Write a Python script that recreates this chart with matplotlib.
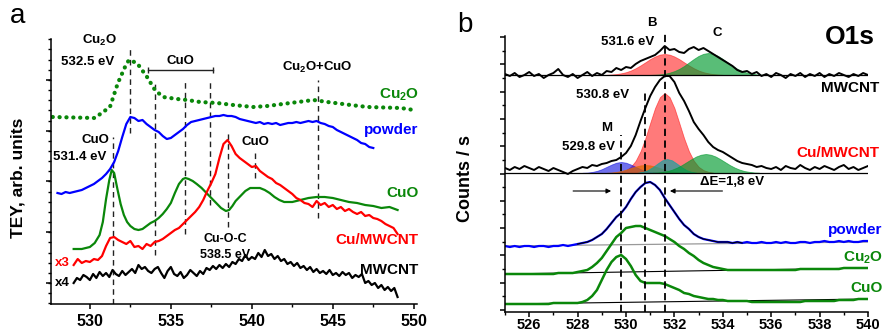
import numpy as np
import matplotlib
matplotlib.use("Agg")
import matplotlib.pyplot as plt
from matplotlib.ticker import MultipleLocator, FixedLocator

plt.rcParams["font.family"] = ["Liberation Sans", "DejaVu Sans"]
plt.rcParams["font.weight"] = "bold"
plt.rcParams["mathtext.fontset"] = "custom"
plt.rcParams["mathtext.rm"] = "Liberation Sans:bold"
plt.rcParams["mathtext.it"] = "Liberation Sans:bold"
plt.rcParams["mathtext.bf"] = "Liberation Sans:bold"

# ---------------- panel a : TEY, O K-edge ----------------
cu2o_a_e = [527.7, 530.3, 531.24, 531.73, 532.17, 532.41, 532.91, 533.53, 534.02, 534.52,
            535.39, 536.0, 536.81, 537.86, 538.85, 540.09, 540.96, 542.38, 543.81, 544.67,
            546.1, 547.15, 549.2, 550.0]
cu2o_a_y = [187, 186, 197, 221, 237, 244, 241, 227, 214, 207,
            205, 204, 202, 201, 199, 197, 198, 201, 204, 202,
            199, 197, 196, 194]

powder_a_e = list(np.arange(528.0, 547.51, 0.25))
powder_a_y = [111, 110, 112, 111, 112, 113, 114, 116, 118, 120, 123, 126, 130, 135, 142, 153,
              167, 180, 187, 186, 183, 184, 180, 177, 174, 172, 168, 165, 166, 169, 172, 175,
              179, 182, 183, 184, 185, 186, 187, 188, 188, 189, 188, 188, 187, 185, 184, 183,
              182, 181, 182, 180, 181, 180, 181, 179, 180, 181, 181, 182, 181, 182, 183, 182,
              183, 181, 180, 178, 177, 174, 172, 170, 168, 166, 164, 161, 160, 157, 156]

cuo_a_e = [529.0, 529.5, 530.0, 530.3, 530.6, 530.8, 531.0, 531.2, 531.35, 531.5, 531.7, 531.9,
           532.1, 532.3, 532.5, 532.75, 533.0, 533.25, 533.5, 533.75, 534.0, 534.25, 534.5,
           534.75, 535.0, 535.25, 535.5, 535.75, 535.9, 536.1, 536.35, 536.6, 536.9, 537.2,
           537.5, 537.8, 538.1, 538.4, 538.6, 538.8, 539.0, 539.3, 539.6, 539.9, 540.2, 540.5,
           540.8, 541.1, 541.4, 541.7, 542.0, 542.5, 543.0, 543.5, 544.0, 544.5, 545.0, 545.5,
           546.0, 546.5, 547.0, 547.5, 548.0, 548.5, 549.0]
cuo_a_y = [55, 55, 57, 61, 69, 82, 105, 124, 134, 131, 115, 100,
           89, 82, 78, 75, 74, 75, 78, 81, 83, 86, 90,
           95, 101, 111, 120, 125, 126, 125, 123, 120, 116, 111,
           106, 101, 96, 93, 94, 98, 103, 108, 113, 116, 116, 116,
           114, 111, 107, 104, 102, 102, 104, 106, 107, 107, 106, 104,
           102, 101, 99, 98, 96, 97, 94]

cumw_a_e = list(np.arange(529.0, 549.01, 0.25))
cumw_a_y = [39, 45, 41, 43, 42, 45, 44, 48, 58, 66, 67, 64, 62, 60, 63, 57, 58, 55, 60, 58,
            62, 63, 65, 68, 71, 74, 76, 80, 84, 88, 92, 97, 104, 113, 121, 130, 146, 160, 164,
            158, 150, 146, 143, 140, 137, 138, 133, 130, 127, 125, 121, 119, 116, 113, 110, 106,
            104, 101, 100, 97, 103, 99, 101, 97, 99, 95, 97, 93, 95, 92, 90, 92, 88, 89, 86,
            85, 83, 80, 78, 76, 70]

mwcnt_a_e = list(np.arange(529.0, 549.01, 0.2))
mwcnt_a_y = [21, 26, 24, 29, 27, 24, 30, 26, 32, 28, 31, 27, 34, 30, 28, 33, 29, 32, 35, 31,
             39, 35, 37, 33, 31, 35, 37, 31, 26, 33, 37, 30, 28, 32, 26, 29, 34, 31, 28, 33,
             30, 36, 34, 38, 35, 39, 36, 40, 37, 42, 40, 45, 43, 49, 44, 47, 45, 51, 47, 54,
             48, 50, 45, 48, 43, 45, 40, 42, 38, 41, 36, 38, 34, 37, 32, 35, 31, 33, 30, 34,
             29, 31, 28, 32, 29, 31, 26, 29, 27, 30, 21, 23, 19, 21, 16, 19, 14, 17, 13, 16, 7]

a_dash_e = [531.4, 532.5, 534.0, 535.9, 537.4, 538.5, 540.2, 544.1]
a_dash_top = [167, 257, 224, 224, 224, 171, 154, 224]
a_dash_bot = [0, 171, 49, 70, 99, 77, 126, 86]
a_bracket_e = [533.6, 537.6]
a_bracket_y = [234, 234]

# ---------------- panel b : XPS O1s ----------------
b_e = list(np.arange(525.0, 540.01, 0.2))
mwcnt_b_y = [238, 236, 239, 235, 237, 240, 236, 238, 234, 237, 239, 243, 237, 235, 238, 234,
             237, 240, 236, 239, 237, 241, 240, 244, 242, 245, 244, 248, 251, 253, 255, 257,
             261, 266, 262, 263, 260, 259, 263, 265, 262, 264, 261, 258, 255, 252, 249, 246,
             242, 240, 241, 238, 240, 236, 238, 235, 239, 237, 234, 238, 236, 239, 235, 238,
             236, 239, 235, 238, 236, 239, 237, 235, 238, 236, 239, 237]
cumw_b_y = [144, 142, 145, 143, 146, 144, 142, 145, 143, 141, 144, 142, 140, 138, 141, 143,
            145, 144, 147, 146, 148, 149, 151, 152, 155, 159, 166, 177, 191, 204, 216, 225,
            232, 236, 236, 230, 219, 211, 201, 190, 183, 177, 170, 165, 162, 160, 157, 154,
            151, 149, 148, 147, 145, 146, 144, 143, 145, 142, 146, 144, 143, 147, 144, 142,
            145, 143, 146, 144, 142, 145, 147, 143, 145, 142, 144, 146]
powder_b_y = [66, 65, 66, 65, 66, 66, 65, 66, 66, 65, 66, 66, 67, 66, 67, 68,
              69, 70, 72, 75, 78, 83, 89, 95, 99, 105, 113, 120, 125, 129, 130, 127,
              122, 114, 107, 100, 93, 87, 83, 78, 75, 73, 72, 71, 70, 70,
              70, 69, 70, 69, 70, 69, 69, 70, 69, 69, 70, 69, 70, 69, 69, 70,
              70, 69, 70, 70, 71, 70, 70, 71, 70, 71, 70, 70, 71, 71]
cu2o_b_y = [38, 38, 38, 38, 38, 38, 38, 38, 38, 38, 38, 39, 39, 39, 39, 40,
            41, 42, 45, 49, 54, 61, 68, 75, 79, 84, 85, 86, 86, 84, 82, 80,
            78, 76, 73, 70, 66, 63, 59, 56, 52, 49, 47, 45, 44, 43,
            42, 42, 42, 42, 42, 42, 42, 42, 42, 42, 42, 42, 42, 42, 42, 43,
            43, 43, 43, 43, 43, 43, 43, 43, 44, 44, 44, 44, 44, 44]
cuo_b_y = [8, 8, 8, 8, 8, 8, 8, 8, 8, 8, 9, 9, 9, 9, 9, 9,
           10, 12, 16, 22, 32, 42, 50, 55, 57, 53, 46, 37, 31, 29, 29, 29,
           29, 28, 26, 24, 22, 19, 18, 16, 15, 14, 13, 13, 12, 12,
           11, 11, 11, 11, 11, 10, 10, 10, 10, 10, 10, 10, 10, 10, 10, 10,
           11, 11, 11, 11, 11, 11, 11, 12, 12, 12, 12, 13, 13, 13]

bg_e = [525.0, 540.0]
powder_bg = [66, 70]
cu2o_bg = [38, 44]
cuo_bg = [8, 13]
mwcnt_base = 237
cumw_base = 139

# fitted components (height above base line)
mw_b_e = list(np.arange(529.2, 534.01, 0.2))
mw_b_h = [0.2, 0.5, 0.9, 1.7, 2.8, 4.5, 6.8, 9.6, 12.7, 15.9, 18.5, 20.4, 21,
          20.4, 18.5, 15.9, 12.7, 9.6, 6.8, 4.5, 2.8, 1.7, 0.9, 0.5, 0.2]
mw_c_e = list(np.arange(531.0, 535.81, 0.2))
mw_c_h = [0.1, 0.3, 0.6, 1.2, 2.3, 3.9, 6.1, 9.0, 12.5, 16.0, 19.1, 21.2, 22,
          21.2, 19.1, 16.0, 12.5, 9.0, 6.1, 3.9, 2.3, 1.2, 0.6, 0.3, 0.1]
cm_red_e = list(np.arange(529.6, 533.61, 0.2))
cm_red_h = [0.4, 1.2, 2.9, 6.2, 12.3, 21.8, 34.8, 50.1, 65.0, 75.9, 80,
            75.9, 65.0, 50.1, 34.8, 21.8, 12.3, 6.2, 2.9, 1.2, 0.4]
cm_blue_e = list(np.arange(528.2, 531.41, 0.2))
cm_blue_h = [0.2, 0.4, 1.0, 2.1, 3.8, 6.1, 8.4, 10.3, 11, 10.3, 8.4, 6.1, 3.8, 2.1, 1.0, 0.4, 0.2]
cm_orange_e = list(np.arange(529.2, 532.41, 0.2))
cm_orange_h = [0.2, 0.5, 1.1, 2.0, 3.3, 4.9, 6.4, 7.6, 8, 7.6, 6.4, 4.9, 3.3, 2.0, 1.1, 0.5, 0.2]
cm_teal_e = list(np.arange(530.5, 532.91, 0.2))
cm_teal_h = [0.4, 1.2, 2.9, 5.8, 9.4, 12.7, 14, 12.7, 9.4, 5.8, 2.9, 1.2, 0.4]
cm_green_e = list(np.arange(531.1, 535.51, 0.2))
cm_green_h = [0.3, 0.5, 1.1, 1.9, 3.3, 5.3, 7.8, 10.8, 13.8, 16.5, 18.3, 19,
              18.3, 16.5, 13.8, 10.8, 7.8, 5.3, 3.3, 1.9, 1.1, 0.5, 0.3]

b_dash_e = [529.8, 530.8, 531.6]
b_dash_top = [177, 219, 281]

GREEN = "#0a870a"


def style_axes(ax, pad):
	for s in ["top", "right"]:
		ax.spines[s].set_visible(False)
	for s in ["left", "bottom"]:
		ax.spines[s].set_linewidth(1.1)
	ax.tick_params(which="major", direction="out", length=3.5, width=1.1, pad=pad)
	ax.tick_params(which="minor", direction="out", length=2.2, width=1.0)


fig = plt.figure(figsize=(8.83, 3.33), dpi=100)

# ---- panel a ----
axa = fig.add_axes([51 / 883, 29 / 333, 366 / 883, 265 / 333])
style_axes(axa, 4.0)
axa.set_xlim(527.6, 550.2)
axa.set_ylim(0, 265)
axa.xaxis.set_major_locator(FixedLocator([530, 535, 540, 545, 550]))
axa.xaxis.set_minor_locator(MultipleLocator(2.5))
axa.yaxis.set_major_locator(FixedLocator(np.arange(21, 265, 50.8)))
axa.yaxis.set_minor_locator(FixedLocator(np.arange(0.6, 266, 10.16)))
axa.set_yticklabels([])
for lab in axa.get_xticklabels():
	lab.set_fontsize(11.5)
	lab.set_fontweight("bold")

for x, t, b in zip(a_dash_e, a_dash_top, a_dash_bot):
	axa.plot([x, x], [b, t], color="#222222", lw=1.0, ls=(0, (4, 3)))
axa.plot(a_bracket_e, a_bracket_y, color="#222222", lw=1.0, marker="|", ms=5, mew=1.0)

axa.plot(cu2o_a_e, cu2o_a_y, color=GREEN, lw=3.0, ls=(0, (0.05, 1.6)), dash_capstyle="round")
axa.plot(powder_a_e, powder_a_y, color="#0000ff", lw=1.6)
axa.plot(cuo_a_e, cuo_a_y, color=GREEN, lw=1.6)
axa.plot(cumw_a_e, cumw_a_y, color="#ff0000", lw=1.6)
axa.plot(mwcnt_a_e, mwcnt_a_y, color="black", lw=1.6)

fs_n = 9.5
fs_c = 11
axa.text(530.62, 264, "Cu$_2$O", fontsize=fs_n, ha="center", va="center", clip_on=False)
axa.text(529.88, 242, "532.5 eV", fontsize=fs_n, ha="center", va="center")
axa.text(535.57, 243, "CuO", fontsize=fs_n, ha="center", va="center")
axa.text(544.06, 237, "Cu$_2$O+CuO", fontsize=fs_n, ha="center", va="center")
axa.text(550.3, 209, "Cu$_2$O", fontsize=fs_c, ha="right", va="center", color=GREEN)
axa.text(550.3, 174, "powder", fontsize=fs_c, ha="right", va="center", color="#0000ff")
axa.text(531.2, 164, "CuO", fontsize=fs_n, ha="right", va="center")
axa.text(529.38, 147, "531.4 eV", fontsize=fs_n, ha="center", va="center")
axa.text(540.2, 162, "CuO", fontsize=fs_n, ha="center", va="center")
axa.text(550.3, 111, "CuO", fontsize=fs_c, ha="right", va="center", color=GREEN)
axa.text(550.3, 64, "Cu/MWCNT", fontsize=fs_c, ha="right", va="center", color="#ff0000")
axa.text(538.36, 65, "Cu-O-C", fontsize=fs_n - 0.5, ha="center", va="center")
axa.text(538.36, 49, "538.5 eV", fontsize=fs_n - 0.5, ha="center", va="center")
axa.text(550.3, 34, "MWCNT", fontsize=fs_c, ha="right", va="center")
axa.text(528.27, 41, "x3", fontsize=fs_n, ha="center", va="center", color="#ff0000")
axa.text(528.27, 21, "x4", fontsize=fs_n, ha="center", va="center")

# ---- panel b ----
axb = fig.add_axes([505 / 883, 21 / 333, 363 / 883, 276 / 333])
style_axes(axb, 1.0)
axb.set_xlim(525, 540)
axb.set_ylim(0, 276)
axb.xaxis.set_major_locator(MultipleLocator(2))
axb.xaxis.set_minor_locator(MultipleLocator(1))
axb.yaxis.set_major_locator(FixedLocator(np.arange(2, 277, 27.3)))
axb.yaxis.set_minor_locator(FixedLocator(np.arange(15.65, 277, 27.3)))
axb.set_yticklabels([])
for lab in axb.get_xticklabels():
	lab.set_fontsize(10.5)
	lab.set_fontweight("bold")


# fitted components
def fill_comp(e, h, base, color, alpha):
	axb.fill_between(e, base, [base + v for v in h], color=color, alpha=alpha, lw=0.6)


fill_comp(mw_b_e, mw_b_h, mwcnt_base, "#ff0000", 0.52)
fill_comp(mw_c_e, mw_c_h, mwcnt_base, "#009a2e", 0.65)
fill_comp(cm_red_e, cm_red_h, cumw_base, "#ff0000", 0.52)
fill_comp(cm_blue_e, cm_blue_h, cumw_base, "#1010e0", 0.6)
fill_comp(cm_orange_e, cm_orange_h, cumw_base, "#e06a00", 0.7)
fill_comp(cm_teal_e, cm_teal_h, cumw_base, "#00a5a5", 0.65)
fill_comp(cm_green_e, cm_green_h, cumw_base, "#009a2e", 0.65)

axb.axhline(mwcnt_base, color="black", lw=0.9)
axb.axhline(cumw_base, color="black", lw=0.9)
axb.plot(bg_e, powder_bg, color="#999999", lw=0.9)
axb.plot(bg_e, cu2o_bg, color="black", lw=0.8)
axb.plot(bg_e, cuo_bg, color="black", lw=0.8)

axb.plot(b_e, mwcnt_b_y, color="black", lw=1.4)
axb.plot(b_e, cumw_b_y, color="black", lw=1.4)
axb.plot(b_e, powder_b_y, color="#0000ff", lw=1.6)
axb.plot(b_e[15:50], powder_b_y[15:50], color="black", lw=0.8)
axb.plot(b_e, cu2o_b_y, color=GREEN, lw=1.8)
axb.plot(b_e, cuo_b_y, color=GREEN, lw=1.8)

for x, t in zip(b_dash_e, b_dash_top):
	axb.plot([x, x], [0, t], color="black", lw=1.3, ls=(0, (4, 2.5)), clip_on=False)

axb.annotate("", xy=(529.5, 121), xytext=(527.7, 121),
	arrowprops=dict(arrowstyle="-|>", color="black", lw=0.8, mutation_scale=7))
axb.annotate("", xy=(531.7, 121), xytext=(534.1, 121),
	arrowprops=dict(arrowstyle="-|>", color="black", lw=0.8, mutation_scale=7))

axb.text(531.07, 289, "B", fontsize=fs_n, ha="center", va="center", clip_on=False)
axb.text(530.08, 270, "531.6 eV", fontsize=fs_n, ha="center", va="center")
axb.text(533.76, 279, "C", fontsize=fs_n, ha="center", va="center", clip_on=False)
axb.text(540.29, 275, "O1s", fontsize=19, ha="right", va="center", clip_on=False)
axb.text(540.45, 224, "MWCNT", fontsize=fs_c, ha="right", va="center", clip_on=False)
axb.text(529.05, 217, "530.8 eV", fontsize=fs_n, ha="center", va="center")
axb.text(529.21, 184, "M", fontsize=fs_n, ha="center", va="center")
axb.text(528.43, 165, "529.8 eV", fontsize=fs_n, ha="center", va="center")
axb.text(540.45, 159, "Cu/MWCNT", fontsize=fs_c, ha="right", va="center", color="#ff0000", clip_on=False)
axb.text(534.38, 130, "\u0394E=1,8 eV", fontsize=fs_n, ha="center", va="center")
axb.text(540.6, 82, "powder", fontsize=fs_c, ha="right", va="center", color="#0000ff", clip_on=False)
axb.text(540.6, 54, "Cu$_2$O", fontsize=fs_c, ha="right", va="center", color=GREEN, clip_on=False)
axb.text(540.6, 24, "CuO", fontsize=fs_c, ha="right", va="center", color=GREEN, clip_on=False)

fig.text(18 / 883, 1 - 178 / 333, "TEY, arb. units", rotation=90, fontsize=12.5,
	ha="center", va="center")
fig.text(465 / 883, 1 - 178 / 333, "Counts / s", rotation=90, fontsize=13,
	ha="center", va="center")
fig.text(18 / 883, 1 - 16 / 333, "a", fontsize=20, fontweight="normal", ha="center", va="center")
fig.text(465 / 883, 1 - 25 / 333, "b", fontsize=20, fontweight="normal", ha="center", va="center")

fig.savefig("out.png", dpi=100)
